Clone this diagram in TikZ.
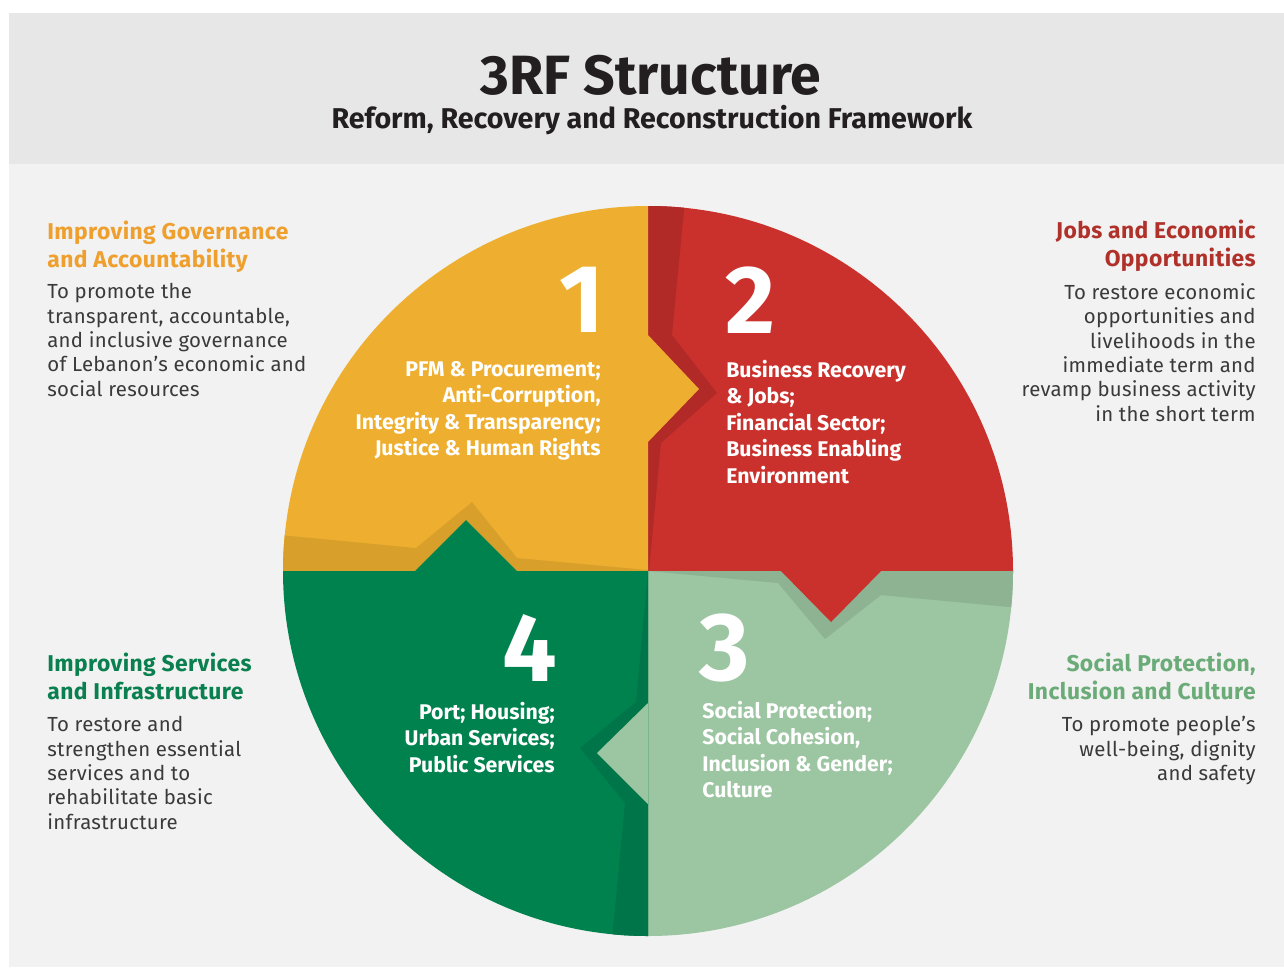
\documentclass[tikz,border=0pt]{standalone}
\usepackage{fontspec}
\setmainfont{Fira Sans}
\definecolor{band}{HTML}{E6E7E6}
\definecolor{panel}{HTML}{F1F2F1}
\definecolor{gov}{HTML}{EEAF30}
\definecolor{govdark}{HTML}{D8A02B}
\definecolor{jobs}{HTML}{CA312C}
\definecolor{jobsdark}{HTML}{B22A27}
\definecolor{social}{HTML}{9CC5A1}
\definecolor{socialdark}{HTML}{8DB393}
\definecolor{serv}{HTML}{00824E}
\definecolor{servdark}{HTML}{007549}
\definecolor{govhead}{HTML}{EE9F2D}
\definecolor{jobshead}{HTML}{B0302A}
\definecolor{servhead}{HTML}{0A7F4F}
\definecolor{socialhead}{HTML}{6AAB78}
\definecolor{bodygray}{HTML}{3A3A3A}
\definecolor{ink}{HTML}{231F20}

\begin{document}
\begin{tikzpicture}[x=0.02cm,y=-0.02cm,
  title/.style={text=ink,font=\bfseries\fontsize{31.5}{33}\selectfont,inner sep=0pt},
  subtitle/.style={text=ink,font=\bfseries\fontsize{16.3}{18}\selectfont,inner sep=0pt},
  num/.style={text=white,font=\bfseries\fontsize{55}{55}\selectfont,inner sep=0pt},
  quad/.style={text=white,font=\bfseries\fontsize{12.1}{15}\selectfont,inner sep=0pt},
  head/.style={font=\bfseries\fontsize{13}{15.9}\selectfont\addfontfeature{LetterSpace=1.8},inner sep=0pt},
  body/.style={text=bodygray,font=\fontsize{11.6}{13.9}\selectfont\addfontfeature{LetterSpace=1.5},inner sep=0pt}]
\useasboundingbox (0,0) rectangle (1284,967);
\fill[white] (0,0) rectangle (1284,967);
\fill[band] (9,13) rectangle (1284,164);
\fill[panel] (9,164) rectangle (1284,967);

\node[title] (title) at (651,75) {3RF Structure};
\node[subtitle] (subtitle) at (652,120) {Reform, Recovery and Reconstruction Framework};

% the four pieces
\begin{scope}
\clip (648,571) circle (365);
\fill[jobs] (640,200) rectangle (1020,575);
\fill[jobsdark] (648,200) -- (685,200) -- (672,335) -- (717,393) -- (661,443) -- (649,571) -- (648,571) -- cycle;
\fill[gov] (270,200) -- (648,200) -- (648,335) -- (699,389) -- (648,442) -- (648,571) -- (270,571) -- cycle;
\fill[govdark] (270,534) -- (416,548) -- (472,502) -- (517,558) -- (648,570) -- (648,571) -- (270,571) -- cycle;
\fill[social] (648,571) rectangle (1020,940);
\fill[socialdark] (648,571) -- (778,583) -- (825,639) -- (881,595) -- (1020,608) -- (1020,571) -- cycle;
\fill[jobs] (780,570) -- (831,622) -- (882,570) -- cycle;
\fill[serv] (270,571) -- (415,571) -- (466,520) -- (517,571) -- (648,571) -- (648,940) -- (270,940) -- cycle;
\fill[servdark] (648,571) -- (636,702) -- (580,748) -- (625,803) -- (612,940) -- (648,940) -- cycle;
\fill[social] (648,703) -- (597,753) -- (648,804) -- cycle;
\end{scope}

\node[num] (n1) at (582,300) {1};
\node[num] (n2) at (750,300) {2};
\node[num] (n3) at (725,648) {3};
\node[num] (n4) at (530,648) {4};

\node[quad,align=right,anchor=north east] (q1) at (601,361)
  {PFM \& Procurement;\\Anti-Corruption,\\Integrity \& Transparency;\\Justice \& Human Rights};
\node[quad,align=left,anchor=north west] (q2) at (726,360)
  {Business Recovery\\\& Jobs;\\Financial Sector;\\Business Enabling\\Environment};
\node[quad,align=left,anchor=north west] (q3) at (702,701)
  {Social Protection;\\Social Cohesion,\\Inclusion \& Gender;\\Culture};
\node[quad,align=right,anchor=north east] (q4) at (555,702)
  {Port; Housing;\\Urban Services;\\Public Services};

% side texts
\node[head,text=govhead,align=left,anchor=north west] (h1) at (47,221)
  {Improving Governance\\and Accountability};
\node[body,align=left,anchor=north west] (b1) at (47,283)
  {To promote the\\transparent, accountable,\\and inclusive governance\\of Lebanon’s economic and\\social resources};
\node[head,text=jobshead,align=right,anchor=north east] (h2) at (1256,220)
  {Jobs and Economic\\Opportunities};
\node[body,align=right,anchor=north east] (b2) at (1256,283)
  {To restore economic\\opportunities and\\livelihoods in the\\immediate term and\\revamp business activity\\in the short term};
\node[head,text=servhead,align=left,anchor=north west] (h4) at (47,653)
  {Improving Services\\and Infrastructure};
\node[body,align=left,anchor=north west] (b4) at (47,716)
  {To restore and\\strengthen essential\\services and to\\rehabilitate basic\\infrastructure};
\node[head,text=socialhead,align=right,anchor=north east] (h3) at (1256,653)
  {Social Protection,\\Inclusion and Culture};
\node[body,align=right,anchor=north east] (b3) at (1256,716)
  {To promote people’s\\well-being, dignity\\and safety};
\end{tikzpicture}
\end{document}
